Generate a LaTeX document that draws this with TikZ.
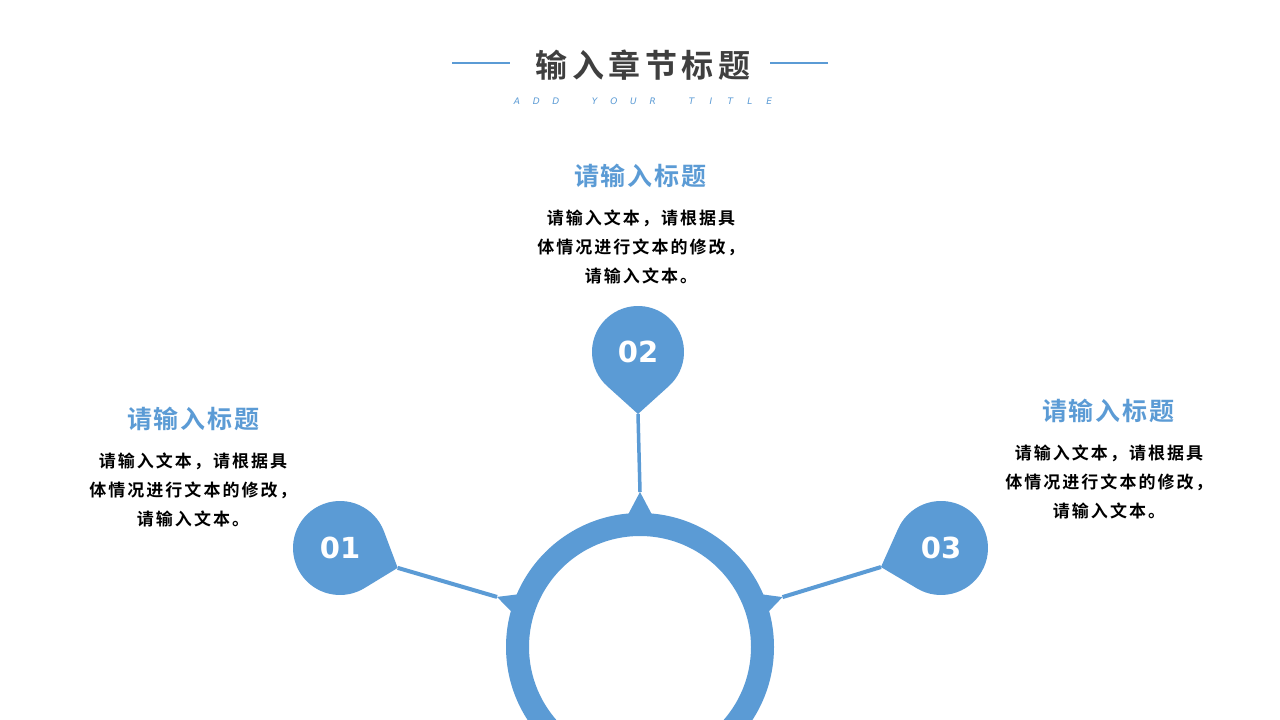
\documentclass[tikz,border=0pt]{standalone}
\usepackage{fontspec}
\setmainfont{Noto Sans CJK SC}[BoldFont=* Bold]
\newfontfamily\numfont{DejaVu Sans}
\newfontfamily\tagfont{DejaVu Sans}
\usetikzlibrary{positioning,
                calc}
\definecolor{mainblue}{HTML}{5B9BD5}
\definecolor{titlegray}{HTML}{3F3F3F}
\tikzset{heading/.style =
   {font=\bfseries\fontsize{32}{36}\selectfont\addfontfeature{LetterSpace=14},
    text=titlegray}}
\tikzset{tagline/.style =
   {font=\tagfont\itshape\fontsize{9}{9}\selectfont,
    text=mainblue}}
\tikzset{subhead/.style =
   {font=\bfseries\fontsize{25}{28}\selectfont\addfontfeature{LetterSpace=7},
    text=mainblue}}
\tikzset{bodytext/.style =
   {font=\bfseries\fontsize{17}{29}\selectfont\addfontfeature{LetterSpace=12},
    align=center}}
\tikzset{number/.style =
   {font=\numfont\bfseries\fontsize{29}{29}\selectfont,
    text=white}}
\tikzset{rule/.style = {draw=mainblue, line width=2pt}}
\tikzset{stem/.style = {draw=mainblue, line width=4pt}}
% drop: center, direction of tip, radius, tip distance
\newcommand{\dropshape}[4]{%
  \pgfmathsetmacro\tang{acos(#3/#4)}
  \fill[mainblue] ($(#1)+(#2+\tang:#3)$)
     arc[start angle=#2+\tang, end angle=#2+360-\tang, radius=#3]
     -- ($(#1)+(#2:#4)$) -- cycle;}
\begin{document}
\begin{tikzpicture}[x=1pt,y=1pt]

    \clip (0,0) rectangle (1280,720);
    \fill[white] (0,0) rectangle (1280,720);

    % heading
    \node [heading] (title) at (643,655) {输入章节标题};
    \coordinate (ruleL) at (452,657);
    \coordinate (ruleR) at (828,657);
    \draw [rule] (ruleL) -- ++(58,0);
    \draw [rule] (ruleR) -- ++(-58,0);
    \foreach \ch/\i in {A/0,D/1,D/2,Y/4,O/5,U/6,R/7,T/9,I/10,T/11,L/12,E/13}
        \node [tagline] (tag\i) at (517+19.4*\i,619) {\ch};

    % hub ring
    \coordinate (hub) at (640,73);
    \fill [mainblue, even odd rule] (hub) circle[radius=134] (hub) circle[radius=111];

    % spikes on the ring
    \foreach \a/\len/\w [count=\k] in {160.7/151.5/4.8, 90/155/6, 19.3/151/4.8} {
        \fill [mainblue] ($(hub)+(\a-\w:130)$) -- ($(hub)+(\a:\len)$)
                         -- ($(hub)+(\a+\w:130)$) -- cycle;
        \coordinate (spike\k) at ($(hub)+(\a:\len)$);
    }

    % drops
    \coordinate (c1) at (340,172);
    \coordinate (c2) at (638,368);
    \coordinate (c3) at (941,172);
    \dropshape{c1}{-19}{47}{61}
    \dropshape{c2}{-90}{46}{62}
    \dropshape{c3}{197.6}{47}{63}
    \coordinate (tip1) at ($(c1)+(-19:61)$);
    \coordinate (tip2) at ($(c2)+(-90:62)$);
    \coordinate (tip3) at ($(c3)+(197.6:63)$);

    \draw [stem] (tip1) -- (spike1);
    \draw [stem, line width=3.5pt] (tip2) -- (spike2);
    \draw [stem] (tip3) -- (spike3);

    \node [number] (num1) at (c1) {01};
    \node [number] (num2) at (c2) {02};
    \node [number] (num3) at (c3) {03};

    % text blocks
    \node [subhead] (head2) at (640,544) {请输入标题};
    \node [bodytext] (body2) at (641,473)
          {请输入文本，请根据具\\体情况进行文本的修改，\\请输入文本。};

    \node [subhead] (head1) at (193,301) {请输入标题};
    \node [bodytext] (body1) at (193,230)
          {请输入文本，请根据具\\体情况进行文本的修改，\\请输入文本。};

    \node [subhead] (head3) at (1108,309) {请输入标题};
    \node [bodytext] (body3) at (1109,238)
          {请输入文本，请根据具\\体情况进行文本的修改，\\请输入文本。};

\end{tikzpicture}
\end{document}
